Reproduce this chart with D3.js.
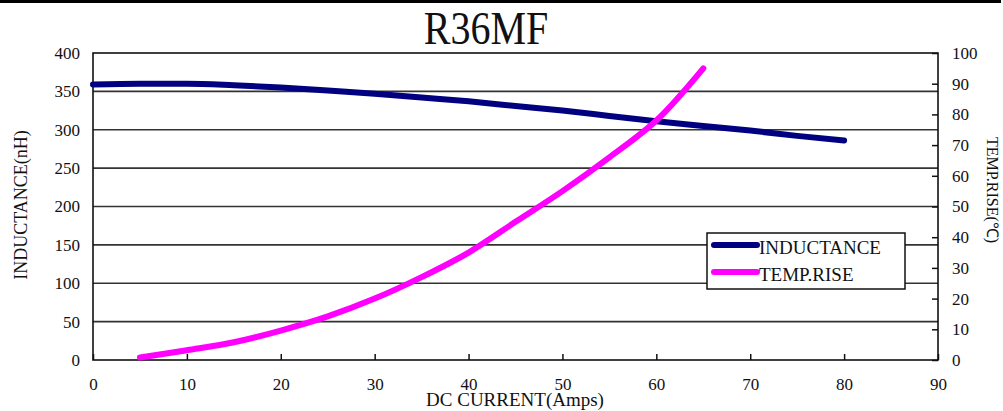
<!DOCTYPE html>
<html>
<head>
<meta charset="utf-8">
<script src="https://cdn.jsdelivr.net/npm/d3@7/dist/d3.min.js"></script>
<style>
  html, body { margin: 0; padding: 0; background: #fff; }
  svg { display: block; font-family: "Liberation Serif", "Times New Roman", serif; }
</style>
</head>
<body>
<svg id="chart" width="1003" height="411"></svg>
<script>
// values
var current = [0, 5, 10, 15, 20, 25, 30, 35, 40, 45, 50, 55, 60, 65, 70, 75, 80];
var inductance = [359, 360, 360, 358, 355, 351, 347, 342, 337, 331, 325, 318, 311, 305, 299, 292, 286];
var tempCurrent = [5, 10, 15, 20, 25, 30, 35, 40, 45, 50, 55, 60, 65];
var tempRise = [0.8, 3.2, 5.8, 9.6, 14.2, 20, 27, 35, 45, 55, 66, 78, 95];
var xTicks = [0, 10, 20, 30, 40, 50, 60, 70, 80, 90];
var leftTicks = [0, 50, 100, 150, 200, 250, 300, 350, 400];
var rightTicks = [0, 10, 20, 30, 40, 50, 60, 70, 80, 90, 100];
var seriesNames = ["INDUCTANCE", "TEMP.RISE"];
var seriesColors = ["#000080", "#ff00ff"];

// note: "top" is taken by window.top, so plot edges get a prefix
var svg = d3.select("#chart"),
        plotLeft = 93, plotRight = 938, plotTop = 53, plotBottom = 360;

var x = d3.scaleLinear().domain([0, 90]).range([plotLeft, plotRight]);
var yL = d3.scaleLinear().domain([0, 400]).range([plotBottom, plotTop]);
var yR = d3.scaleLinear().domain([0, 100]).range([plotBottom, plotTop]);

// black band on top of the picture
svg.append("rect").attr("x", 0).attr("y", 0).attr("width", 1001).attr("height", 3).attr("fill", "#000");

// title, a bit narrow in the original
svg.append("g")
        .attr("transform", "translate(486,44) scale(0.87,1)")
        .append("text")
        .attr("text-anchor", "middle")
        .attr("font-size", 46)
        .attr("fill", "#111")
        .text("R36MF");

// gridlines
svg.append("g").selectAll("line")
        .data(leftTicks.filter(function (d) { return d > 0 && d < 400; }))
        .enter().append("line")
        .attr("x1", plotLeft).attr("x2", plotRight)
        .attr("y1", function (d) { return yL(d); })
        .attr("y2", function (d) { return yL(d); })
        .attr("stroke", "#333").attr("stroke-width", 1.6);

function styleAxis(g) {
    g.select(".domain").remove();
    g.selectAll("line").attr("stroke", "#111").attr("stroke-width", 1.5);
    g.selectAll("text").attr("font-size", 17).attr("fill", "#111")
            .attr("font-family", "Liberation Serif, Times New Roman, serif");
}

svg.append("g")
        .attr("transform", "translate(0," + plotBottom + ")")
        .call(d3.axisBottom(x).tickValues(xTicks).tickSize(-6).tickPadding(18).tickFormat(d3.format("d")))
        .call(styleAxis);

svg.append("g")
        .attr("transform", "translate(" + plotLeft + ",0)")
        .call(d3.axisLeft(yL).tickValues(leftTicks).tickSize(0).tickPadding(13).tickFormat(d3.format("d")))
        .call(styleAxis);

svg.append("g")
        .attr("transform", "translate(" + plotRight + ",0)")
        .call(d3.axisRight(yR).tickValues(rightTicks).tickSize(-6).tickPadding(14).tickFormat(d3.format("d")))
        .call(styleAxis);

// frame
svg.append("rect")
        .attr("x", plotLeft).attr("y", plotTop)
        .attr("width", plotRight - plotLeft).attr("height", plotBottom - plotTop)
        .attr("fill", "none").attr("stroke", "#111").attr("stroke-width", 1.6);

// axis titles
svg.append("text")
        .attr("x", 515).attr("y", 406)
        .attr("text-anchor", "middle").attr("font-size", 19).attr("fill", "#111")
        .text("DC CURRENT(Amps)");

svg.append("text")
        .attr("transform", "translate(27,205) rotate(-90)")
        .attr("text-anchor", "middle").attr("font-size", 18).attr("fill", "#111")
        .text("INDUCTANCE(nH)");

svg.append("text")
        .attr("transform", "translate(987,190) rotate(90)")
        .attr("text-anchor", "middle").attr("font-size", 16).attr("fill", "#111")
        .text("TEMP.RISE(\u2103)");

// series
var lineL = d3.line()
        .x(function (d, i) { return x(current[i]); })
        .y(function (d) { return yL(d); })
        .curve(d3.curveMonotoneX);

var lineR = d3.line()
        .x(function (d, i) { return x(tempCurrent[i]); })
        .y(function (d) { return yR(d); })
        .curve(d3.curveCatmullRom.alpha(0.5));

svg.append("path")
        .attr("d", lineL(inductance))
        .attr("fill", "none").attr("stroke", seriesColors[0])
        .attr("stroke-width", 6).attr("stroke-linecap", "round");

svg.append("path")
        .attr("d", lineR(tempRise))
        .attr("fill", "none").attr("stroke", seriesColors[1])
        .attr("stroke-width", 6).attr("stroke-linecap", "round");

// legend
var legend = svg.append("g").attr("transform", "translate(707,233)");
legend.append("rect")
        .attr("width", 198).attr("height", 56)
        .attr("fill", "#fff").attr("stroke", "#111").attr("stroke-width", 1.5);
seriesNames.forEach(function (name, i) {
    var ly = 12 + i * 27;
    legend.append("line")
            .attr("x1", 7).attr("x2", 50).attr("y1", ly).attr("y2", ly)
            .attr("stroke", seriesColors[i]).attr("stroke-width", 6).attr("stroke-linecap", "round");
    legend.append("text")
            .attr("x", 52).attr("y", ly + 9)
            .attr("font-size", 19).attr("fill", "#111")
            .text(name);
});
</script>
</body>
</html>
